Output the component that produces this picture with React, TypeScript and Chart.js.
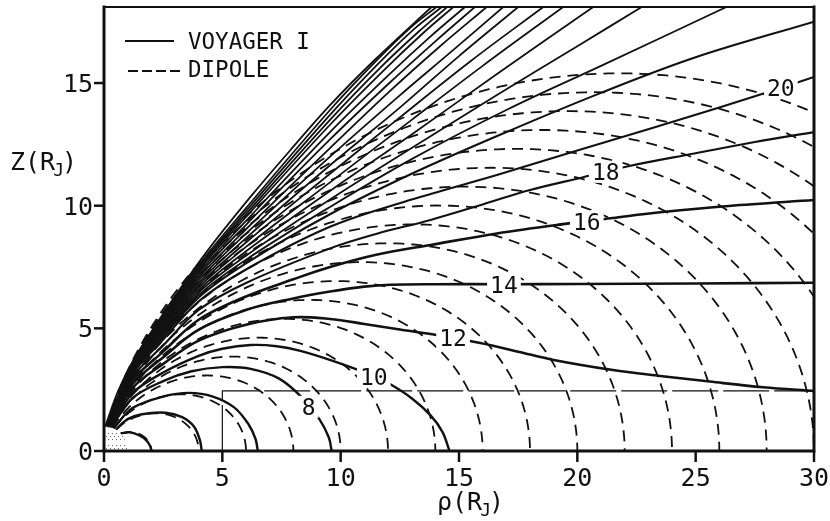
import { useEffect, useRef } from 'react';
import { Chart, registerables } from 'chart.js';

Chart.register(...registerables);

type Pt = [number, number];

const INK = '#111';
const FONT = '"DejaVu Sans Mono", "Liberation Mono", monospace';

// Axis ranges and ticks (Jupiter radii)
const rhoMax = 30;
const zMax = 18.1;
const xTicks = [0, 5, 10, 15, 20, 25, 30];
const yTicks = [0, 5, 10, 15];

// Equatorial crossing distances of the dipole field lines
const dipoleShells = [2, 4, 6, 8, 10, 12, 14, 16, 18, 20, 22, 24, 26, 28, 30, 32, 34, 36, 38, 40];

// Voyager 1 model field lines, closed inside the plot (rho, z)
const loop2: Pt[] = [[0.7, 0.72], [1.1, 0.76], [1.5, 0.63], [1.8, 0.42], [1.96, 0.18], [2.0, 0]];
const loop4: Pt[] = [[0.5, 0.87], [1.0, 1.3], [1.6, 1.5], [2.6, 1.56], [3.3, 1.38], [3.8, 1.0], [4.05, 0.45], [4.13, 0]];
const loop6: Pt[] = [[0.4, 0.92], [1.2, 1.75], [2.5, 2.22], [3.6, 2.37], [4.6, 2.22], [5.5, 1.78], [6.1, 1.1], [6.4, 0.5], [6.5, 0]];
const line8: Pt[] = [[0.3, 0.95], [1.2, 2.15], [2.5, 2.85], [3.7, 3.25], [5.0, 3.42], [6.2, 3.35], [7.4, 2.95], [8.4, 2.15], [9.1, 1.3], [9.5, 0.55], [9.62, 0]];
const line10: Pt[] = [[0.25, 0.97], [1.2, 2.35], [2.5, 3.2], [4, 3.88], [5, 4.17], [6.2, 4.32], [7.3, 4.27], [8.3, 4.08], [9.7, 3.66], [11.4, 3.05], [12.1, 2.72], [13.0, 2.15], [13.8, 1.45], [14.3, 0.78], [14.6, 0]];

// Voyager 1 model field lines leaving through the right edge
const line12: Pt[] = [[0.25, 0.97], [1.2, 2.56], [2.5, 3.55], [4, 4.5], [6, 5.15], [8, 5.45], [9.55, 5.38], [11, 5.18], [12.5, 4.95], [14.05, 4.73], [15.9, 4.4], [17.5, 4.05], [19, 3.71], [21.5, 3.3], [23.5, 3.06], [25.6, 2.83], [27.85, 2.6], [30, 2.45]];
const line14: Pt[] = [[0.2, 0.98], [1.2, 2.72], [2.5, 3.82], [4, 4.95], [6, 5.75], [8, 6.22], [9.55, 6.5], [11, 6.7], [12.1, 6.78], [14, 6.8], [17, 6.8], [20, 6.81], [25, 6.83], [30, 6.86]];
const line16: Pt[] = [[0.2, 0.98], [1.2, 2.86], [2.5, 4.05], [4, 5.35], [6, 6.3], [8, 7.0], [9.55, 7.5], [11.5, 8.0], [13.8, 8.4], [16.6, 8.87], [19.4, 9.25], [21.5, 9.5], [23.6, 9.74], [26.4, 9.99], [30, 10.23]];
const line18: Pt[] = [[0.15, 0.99], [1.2, 3.0], [2.5, 4.3], [4, 5.75], [6, 6.85], [9.55, 8.26], [11.5, 8.85], [13.8, 9.42], [16, 10.05], [18, 10.64], [20.25, 11.16], [22.1, 11.6], [25, 12.14], [27.5, 12.6], [30, 13.0]];
const line20: Pt[] = [[0.15, 0.99], [1.2, 3.12], [2.5, 4.54], [4, 6.1], [6, 7.4], [9.55, 9.14], [13, 10.25], [16.6, 11.25], [20, 12.25], [23.1, 13.15], [26, 14.0], [28.6, 14.8], [30, 15.25]];
const line22: Pt[] = [[0.15, 0.99], [1.2, 3.18], [2.5, 4.65], [4, 6.26], [6, 7.65], [9.55, 9.65], [13, 11.3], [17, 13.0], [21, 14.6], [25, 16.05], [30, 17.5]];

// Voyager 1 model field lines leaving through the top edge
const top1: Pt[] = [[0.1, 0.995], [1.2, 3.22], [2.5, 4.72], [4, 6.36], [6, 7.8], [9.55, 9.95], [13, 11.9], [17, 13.9], [21, 15.7], [26.3, 18.1]];
const top2: Pt[] = [[0.1, 0.995], [1.2, 3.25], [2.5, 4.79], [4, 6.46], [6, 7.96], [9.55, 10.25], [13, 12.35], [16.5, 14.45], [20, 16.5], [22.72, 18.1]];
const top3: Pt[] = [[0.1, 0.995], [1.2, 3.28], [2.5, 4.86], [4, 6.56], [6, 8.14], [9.55, 10.6], [13, 12.9], [16.5, 15.3], [20.67, 18.1]];
const top4: Pt[] = [[0.1, 0.995], [1.2, 3.31], [2.5, 4.93], [4, 6.66], [6, 8.32], [9.55, 10.95], [13, 13.5], [16, 15.7], [19.4, 18.1]];
const top5: Pt[] = [[0.1, 0.995], [1.2, 3.34], [2.5, 5.0], [4, 6.76], [6, 8.5], [9.55, 11.3], [12.5, 13.6], [15.5, 15.9], [18.56, 18.1]];
const top6: Pt[] = [[0.1, 0.995], [1.2, 3.37], [2.5, 5.07], [4, 6.86], [6, 8.68], [9.55, 11.65], [12.5, 14.0], [15, 16.1], [17.5, 18.1]];
const top7: Pt[] = [[0.1, 0.995], [1.2, 3.4], [2.5, 5.14], [4, 6.96], [6, 8.86], [9.55, 12.0], [12.5, 14.5], [14.7, 16.3], [16.87, 18.1]];
const top8: Pt[] = [[0.1, 0.995], [1.2, 3.43], [2.5, 5.21], [4, 7.06], [6, 9.04], [9.55, 12.35], [12, 14.6], [14.2, 16.5], [16.17, 18.1]];
const top9: Pt[] = [[0.1, 0.995], [1.2, 3.46], [2.5, 5.28], [4, 7.16], [6, 9.22], [9.55, 12.7], [12, 14.95], [14, 16.7], [15.67, 18.1]];
const top10: Pt[] = [[0.1, 0.995], [1.2, 3.49], [2.5, 5.34], [4, 7.26], [6, 9.38], [9.55, 13.0], [12, 15.3], [13.8, 16.9], [15.25, 18.1]];
const top11: Pt[] = [[0.1, 0.995], [1.2, 3.52], [2.5, 5.4], [4, 7.35], [6, 9.54], [9.55, 13.3], [11.8, 15.5], [13.5, 17.05], [14.76, 18.1]];
const top12: Pt[] = [[0.1, 0.995], [1.2, 3.54], [2.5, 5.45], [4, 7.43], [6, 9.66], [9.55, 13.5], [11.7, 15.65], [13.3, 17.1], [14.5, 18.1]];
const top13: Pt[] = [[0.1, 0.995], [1.2, 3.56], [2.5, 5.5], [4, 7.5], [6, 9.78], [9.55, 13.7], [11.6, 15.8], [13.1, 17.2], [14.27, 18.1]];
const top14: Pt[] = [[0.1, 0.995], [1.2, 3.58], [2.5, 5.55], [4, 7.58], [6, 9.9], [9.55, 13.9], [11.5, 15.9], [13.0, 17.3], [14.05, 18.1]];
const top15: Pt[] = [[0.05, 1.0], [0.6, 2.45], [1.24, 3.7], [2.37, 5.4], [3.1, 6.45], [4.48, 8.3], [6.31, 10.5], [7.86, 12.25], [9.55, 14.1], [11.5, 16.0], [13.84, 18.1]];

// Outlined region along the equator
const equatorBox: Pt[] = [[5, 0], [5, 2.45], [30, 2.45]];

// Line labels and where they sit (rho, z)
const lineLabels: { text: string; at: Pt }[] = [
  { text: '8', at: [8.65, 1.8] },
  { text: '10', at: [11.4, 3.05] },
  { text: '12', at: [14.75, 4.62] },
  { text: '14', at: [16.9, 6.8] },
  { text: '16', at: [20.4, 9.36] },
  { text: '18', at: [21.2, 11.38] },
  { text: '20', at: [28.6, 14.8] },
];

const toXY = (pts: Pt[]) => pts.map(([x, y]) => ({ x, y }));

// Dipole field line r = L cos^2(lat), from the planet's surface to the equator
function dipoleLine(L: number) {
  const lat0 = Math.acos(Math.sqrt(1 / L));
  const n = 140;
  const out: { x: number; y: number }[] = [];
  for (let i = 0; i <= n; i++) {
    const lat = lat0 * (1 - i / n);
    const r = L * Math.cos(lat) ** 2;
    out.push({ x: r * Math.cos(lat), y: r * Math.sin(lat) });
  }
  return out;
}

function solid(pts: Pt[], width: number) {
  return {
    data: toXY(pts),
    borderColor: INK,
    borderWidth: width,
    pointRadius: 0,
    fill: false,
    tension: 0.35,
  };
}

function drawText(ctx: CanvasRenderingContext2D, text: string, x: number, y: number, size: number, align: CanvasTextAlign) {
  ctx.save();
  ctx.font = `${size}px ${FONT}`;
  ctx.fillStyle = INK;
  ctx.textAlign = align;
  ctx.textBaseline = 'alphabetic';
  ctx.fillText(text, x, y);
  ctx.restore();
}

// Title of the form  prefix(R_J)
function drawUnitTitle(ctx: CanvasRenderingContext2D, prefix: string, x: number, y: number) {
  ctx.save();
  ctx.fillStyle = INK;
  ctx.textBaseline = 'alphabetic';
  ctx.textAlign = 'left';
  ctx.font = `25px ${FONT}`;
  const head = `${prefix}(R`;
  ctx.fillText(head, x, y);
  let cx = x + ctx.measureText(head).width - 2;
  ctx.font = `18px ${FONT}`;
  ctx.fillText('J', cx, y + 6);
  cx += ctx.measureText('J').width - 2;
  ctx.font = `25px ${FONT}`;
  ctx.fillText(')', cx, y);
  ctx.restore();
}

const overlay = {
  id: 'overlay',
  afterDatasetsDraw(chart: any) {
    const { ctx, chartArea: a, scales } = chart;
    const xs = scales.x;
    const ys = scales.y;
    const x0 = xs.getPixelForValue(0);
    const y0 = ys.getPixelForValue(0);
    const rx = xs.getPixelForValue(1) - x0;
    const ry = y0 - ys.getPixelForValue(1);

    // Jupiter, stippled quarter disc
    ctx.save();
    ctx.beginPath();
    ctx.moveTo(x0, y0);
    ctx.ellipse(x0, y0, rx, ry, 0, -Math.PI / 2, 0);
    ctx.closePath();
    ctx.fillStyle = '#fff';
    ctx.fill();
    ctx.clip();
    ctx.fillStyle = '#666';
    let row = 0;
    for (let j = 2; j < ry + 2; j += 3, row++) {
      for (let i = (row % 2) * 2 + 2; i < rx + 2; i += 4) {
        if ((row * 5 + Math.round(i) * 3) % 4 === 0) continue;
        ctx.fillRect(x0 + i, y0 - j - 1, 1, 1);
      }
    }
    ctx.restore();

    // Line labels on a white patch
    ctx.save();
    ctx.font = `23px ${FONT}`;
    for (const lb of lineLabels) {
      const px = xs.getPixelForValue(lb.at[0]);
      const py = ys.getPixelForValue(lb.at[1]);
      const w = ctx.measureText(lb.text).width;
      ctx.fillStyle = '#fff';
      ctx.fillRect(px - w / 2 - 3, py - 11, w + 6, 22);
      drawText(ctx, lb.text, px, py + 8.5, 23, 'center');
    }
    ctx.restore();

    // Frame
    ctx.save();
    ctx.strokeStyle = INK;
    ctx.lineCap = 'square';
    ctx.lineWidth = 2;
    ctx.beginPath();
    ctx.moveTo(a.left, a.top);
    ctx.lineTo(a.right, a.top);
    ctx.stroke();
    ctx.lineWidth = 3;
    ctx.beginPath();
    ctx.moveTo(a.left, a.top);
    ctx.lineTo(a.left, a.bottom);
    ctx.lineTo(a.right, a.bottom);
    ctx.lineTo(a.right, a.top);
    ctx.stroke();

    // Ticks
    ctx.lineWidth = 2.5;
    ctx.lineCap = 'butt';
    for (const v of xTicks) {
      const px = xs.getPixelForValue(v);
      ctx.beginPath();
      ctx.moveTo(px, a.bottom);
      ctx.lineTo(px, a.bottom + 11);
      ctx.stroke();
      drawText(ctx, String(v), px, a.bottom + 35, 25, 'center');
    }
    for (const v of yTicks) {
      const py = ys.getPixelForValue(v);
      ctx.beginPath();
      ctx.moveTo(a.left - 10, py);
      ctx.lineTo(a.left, py);
      ctx.stroke();
      drawText(ctx, String(v), a.left - 11, py + 9, 25, 'right');
    }
    ctx.restore();

    // Axis titles
    drawUnitTitle(ctx, 'ρ', 437, 510);
    drawUnitTitle(ctx, 'Z', 10, 170);

    // Legend
    ctx.save();
    ctx.strokeStyle = INK;
    ctx.lineWidth = 2;
    ctx.beginPath();
    ctx.moveTo(125, 41);
    ctx.lineTo(174, 41);
    ctx.stroke();
    ctx.setLineDash([10, 4]);
    ctx.beginPath();
    ctx.moveTo(128, 71);
    ctx.lineTo(180, 71);
    ctx.stroke();
    ctx.restore();
    drawText(ctx, 'VOYAGER I', 188, 48.5, 22.5, 'left');
    drawText(ctx, 'DIPOLE', 188, 77, 22.5, 'left');
  },
};

export default function App() {
  const ref = useRef<HTMLCanvasElement | null>(null);

  useEffect(() => {
    const canvas = ref.current;
    if (!canvas) return;

    const dipoleSets = dipoleShells.map((L) => ({
      data: dipoleLine(L),
      borderColor: INK,
      borderWidth: 1.8,
      borderDash: [11, 7],
      pointRadius: 0,
      fill: false,
      tension: 0,
    }));

    const closed = [loop2, loop4, loop6, line8, line10].map((p) => solid(p, 2.4));
    const main = [line12, line14, line16].map((p) => solid(p, 2.6));
    const outer = [line18, line20, line22].map((p) => solid(p, 2.1));
    const tops = [top1, top2, top3, top4, top5, top6, top7, top8, top9, top10, top11, top12, top13, top14, top15].map((p) => solid(p, 1.8));

    const box = {
      data: toXY(equatorBox),
      borderColor: INK,
      borderWidth: 1.2,
      borderDash: [46, 5],
      pointRadius: 0,
      fill: false,
      tension: 0,
    };

    const chart = new Chart(canvas, {
      type: 'line',
      data: { datasets: [box, ...closed, ...main, ...outer, ...tops, ...dipoleSets] as any },
      options: {
        responsive: false,
        animation: false,
        devicePixelRatio: 1,
        layout: { padding: { left: 104, right: 16, top: 7, bottom: 70 } },
        scales: {
          x: { type: 'linear', min: 0, max: rhoMax, display: false },
          y: { type: 'linear', min: 0, max: zMax, display: false },
        },
        plugins: { legend: { display: false }, tooltip: { enabled: false } },
        elements: { point: { radius: 0 } },
      },
      plugins: [overlay],
    });

    return () => chart.destroy();
  }, []);

  return (
    <div style={{ position: 'fixed', left: 0, top: 0, width: 830, height: 521, background: '#fff' }}>
      <canvas ref={ref} width={830} height={521} style={{ display: 'block' }} />
    </div>
  );
}
